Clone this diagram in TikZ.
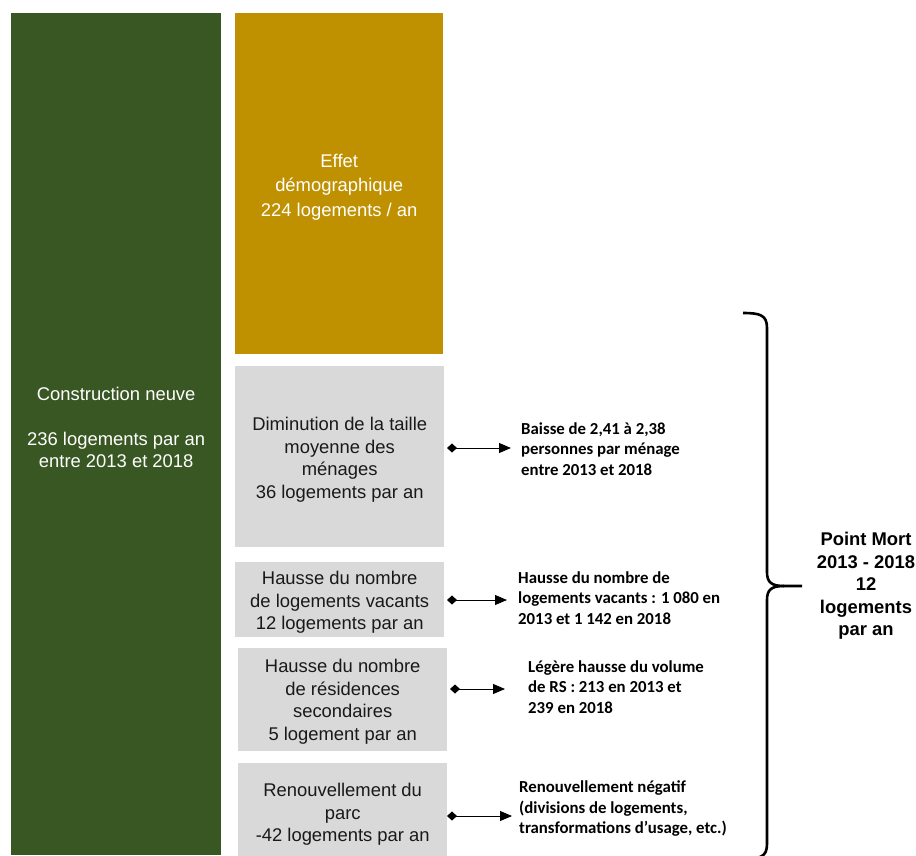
\documentclass[tikz,border=0pt]{standalone}
\usepackage{fontspec}
\setmainfont{Liberation Sans}
\newfontfamily\notefont{Carlito}
\usetikzlibrary{arrows.meta,positioning}

\definecolor{vertfonce}{HTML}{385723}
\definecolor{orfonce}{HTML}{BF9000}
\definecolor{grisclair}{HTML}{D9D9D9}

\tikzset{
  bloc/.style={rectangle, anchor=north west, inner sep=0pt, align=center,
    font=\fontsize{18.4}{22.5}\selectfont},
  blocgris/.style={bloc, fill=grisclair, text=black!90, minimum width=209pt},
  note/.style={anchor=west, align=left, inner sep=0pt,
    font=\notefont\bfseries\fontsize{16.8}{20.5}\selectfont},
  lien/.style={{Diamond[length=10pt,width=9pt]}-{Triangle[length=12pt,width=10pt]}, line width=0.9pt},
  accolade/.style={line width=2.6pt, line join=round}
}

\begin{document}
\begin{tikzpicture}[x=1pt,y=-1pt]
  \useasboundingbox (0,0) rectangle (916,855);

  % colonnes
  \node[bloc, fill=vertfonce, minimum width=210pt, minimum height=842pt] (neuve) at (11,13) {};
  \node[bloc, anchor=center, text=white] (neuvetxt) at ([yshift=7pt]neuve.center)
    {Construction neuve\\~\\236 logements par an\\entre 2013 et 2018};
  \node[bloc, fill=orfonce, text=white, minimum width=208pt, minimum height=341pt,
    font=\fontsize{18.4}{24.5}\selectfont] (demo) at (235,13)
    {\rule{0pt}{20pt}Effet\\démographique\\224 logements / an};

  % composantes du point mort
  \node[blocgris, minimum height=181pt] (taille) at (235,366)
    {\rule{0pt}{19pt}Diminution de la taille\\moyenne des\\ménages\\36 logements par an};
  \node[blocgris, minimum height=75pt] (vacants) at (235,562)
    {\rule{0pt}{19pt}Hausse du nombre\\de logements vacants\\12 logements par an};
  \node[blocgris, minimum height=103pt] (secondaires) at (238,648)
    {\rule{0pt}{17pt}Hausse du nombre\\de résidences\\secondaires\\5 logement par an};
  \node[blocgris, minimum height=100pt] (renouv) at (238,763)
    {\rule{0pt}{16pt}Renouvellement du\\parc\\-42 logements par an};

  % explications
  \node[note] (n1) at (521,449) {Baisse de 2,41 à 2,38\\personnes par ménage\\entre 2013 et 2018};
  \node[note] (n2) at (518,598) {Hausse du nombre de\\logements vacants : 1 080 en\\2013 et 1 142 en 2018};
  \node[note] (n3) at (528,687) {Légère hausse du volume\\de RS : 213 en 2013 et\\239 en 2018};
  \node[note] (n4) at (519,809) {Renouvellement négatif\\(divisions de logements,\\transformations d’usage, etc.)};

  \coordinate (d1) at (447,448);
  \coordinate (d2) at (447,600);
  \coordinate (d3) at (450,689);
  \coordinate (d4) at (447,816);
  \draw[lien] (d1) -- ([xshift=-10pt]n1.west |- d1);
  \draw[lien] (d2) -- ([xshift=-11pt]n2.west |- d2);
  \draw[lien] (d3) -- ([xshift=-23pt]n3.west |- d3);
  \draw[lien] (d4) -- ([xshift=-7pt]n4.west |- d4);

  % accolade
  \draw[accolade] (743,313) .. controls (760,313) and (767,315) .. (767,328)
    -- (767,572) .. controls (767,582) and (771,586) .. (784,586) -- (802,586);
  \draw[accolade] (784,586) .. controls (771,586) and (767,590) .. (767,600)
    -- (767,844) .. controls (767,857) and (760,859) .. (743,859);
  \node[bloc, anchor=center, font=\bfseries\fontsize{18.4}{22.5}\selectfont] (pm) at (866,586)
    {Point Mort\\2013 - 2018\\12\\logements\\par an};
\end{tikzpicture}
\end{document}
